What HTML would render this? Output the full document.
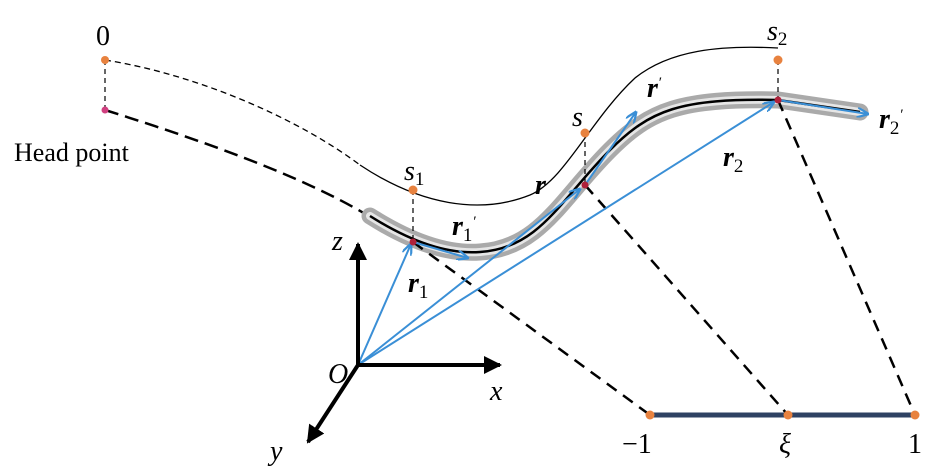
<!DOCTYPE html>
<html><head><style>body{margin:0;background:#fff}svg{display:block}</style></head><body>
<svg width="945" height="469" viewBox="0 0 945 469" xmlns="http://www.w3.org/2000/svg" font-family="Liberation Serif, serif">
<defs>
<marker id="ab" markerWidth="12" markerHeight="10" refX="11" refY="5" orient="auto" markerUnits="userSpaceOnUse"><path d="M0,0 L12,5 L0,10" fill="none" stroke="#3a8fd6" stroke-width="2.2"/></marker>
<marker id="ak" markerWidth="18" markerHeight="18" refX="16" refY="9" orient="auto" markerUnits="userSpaceOnUse"><path d="M0,0 L18,9 L0,18 z" fill="#000"/></marker>
</defs>
<path d="M105,60 C200,75 300,120 360,165" fill="none" stroke="#000" stroke-width="1.3" stroke-dasharray="6,4"/>
<path d="M360,165 C420,205 480,215 530,195 C565,180 590,120 635,78 C670,50 720,45 778,48" fill="none" stroke="#000" stroke-width="1.3"/>
<path d="M105,110 C200,140 300,175 367,215" fill="none" stroke="#000" stroke-width="2.5" stroke-dasharray="14,7"/>
<path d="M370,216 C400,235 440,255 480,252 C540,248 560,200 610,150 C650,110 680,98 778,100 L860,112" fill="none" stroke="#aaa" stroke-width="17" stroke-linecap="round"/>
<path d="M370,216 C400,235 440,255 480,252 C540,248 560,200 610,150 C650,110 680,98 778,100 L860,112" fill="none" stroke="#e6e6e6" stroke-width="8" stroke-linecap="round"/>
<path d="M370,216 C400,235 440,255 480,252 C540,248 560,200 610,150 C650,110 680,98 778,100 L860,112" fill="none" stroke="#000" stroke-width="2.5"/>
<g stroke="#000" stroke-width="1.2" stroke-dasharray="5,4">
<line x1="105" y1="60" x2="105" y2="110"/><line x1="413" y1="190" x2="413" y2="242"/><line x1="585" y1="133" x2="585" y2="185"/><line x1="778" y1="60" x2="778" y2="100"/>
</g>
<g stroke="#000" stroke-width="2.5" stroke-dasharray="12,8">
<line x1="413" y1="242" x2="650" y2="415"/><line x1="585" y1="185" x2="788" y2="415"/><line x1="778" y1="100" x2="915" y2="415"/>
</g>
<line x1="650" y1="415" x2="915" y2="415" stroke="#2e4263" stroke-width="5"/>
<g stroke="#3a8fd6" stroke-width="2" fill="none" marker-end="url(#ab)">
<line x1="358" y1="365" x2="411" y2="244"/><line x1="358" y1="365" x2="580" y2="189"/><line x1="358" y1="365" x2="774" y2="102"/>
<line x1="413" y1="242" x2="468" y2="258"/><line x1="585" y1="185" x2="636" y2="112"/><line x1="778" y1="100" x2="868" y2="114"/>
</g>
<g stroke="#000" stroke-width="4" marker-end="url(#ak)">
<line x1="358" y1="365" x2="358" y2="244"/><line x1="358" y1="365" x2="500" y2="365"/><line x1="358" y1="365" x2="308" y2="442"/>
</g>
<g fill="#e8823f"><circle cx="105" cy="60" r="4"/><circle cx="413" cy="190" r="4.5"/><circle cx="585" cy="133" r="4.5"/><circle cx="778" cy="60" r="4.5"/>
<circle cx="650" cy="415" r="4.5"/><circle cx="788" cy="415" r="4.5"/><circle cx="915" cy="415" r="4.5"/></g>
<g fill="#b0203a"><circle cx="105" cy="110" r="3.5" fill="#d04080"/><circle cx="413" cy="242" r="3.5"/><circle cx="585" cy="185" r="3.5"/><circle cx="778" cy="100" r="3.5"/></g>
<g font-size="28" fill="#000">
<text x="96" y="45">0</text>
<text x="14" y="161" font-size="26">Head point</text>
<text x="404" y="180" font-style="italic">s<tspan font-size="19" font-style="normal" dy="5">1</tspan></text>
<text x="572" y="126" font-style="italic">s</text>
<text x="767" y="40" font-style="italic">s<tspan font-size="19" font-style="normal" dy="5">2</tspan></text>
<text x="647" y="97" font-style="italic" font-weight="bold">r<tspan font-size="15" font-weight="normal" dy="-10">′</tspan></text>
<text x="879" y="128" font-style="italic" font-weight="bold">r<tspan font-size="19" font-weight="normal" font-style="normal" dy="6">2</tspan><tspan font-size="15" font-weight="normal" dy="-15">′</tspan></text>
<text x="452" y="235" font-style="italic" font-weight="bold">r<tspan font-size="19" font-weight="normal" font-style="normal" dy="6">1</tspan><tspan font-size="15" font-weight="normal" dy="-15">′</tspan></text>
<text x="535" y="194" font-style="italic" font-weight="bold">r</text>
<text x="723" y="166" font-style="italic" font-weight="bold">r<tspan font-size="19" font-weight="normal" font-style="normal" dy="6">2</tspan></text>
<text x="408" y="292" font-style="italic" font-weight="bold">r<tspan font-size="19" font-weight="normal" font-style="normal" dy="6">1</tspan></text>
<text x="332" y="250" font-style="italic">z</text>
<text x="328" y="383" font-style="italic">O</text>
<text x="490" y="400" font-style="italic">x</text>
<text x="270" y="460" font-style="italic">y</text>
<text x="622" y="453">−1</text>
<text x="779" y="453" font-style="italic">ξ</text>
<text x="908" y="453">1</text>
</g>
</svg>
</body></html>
